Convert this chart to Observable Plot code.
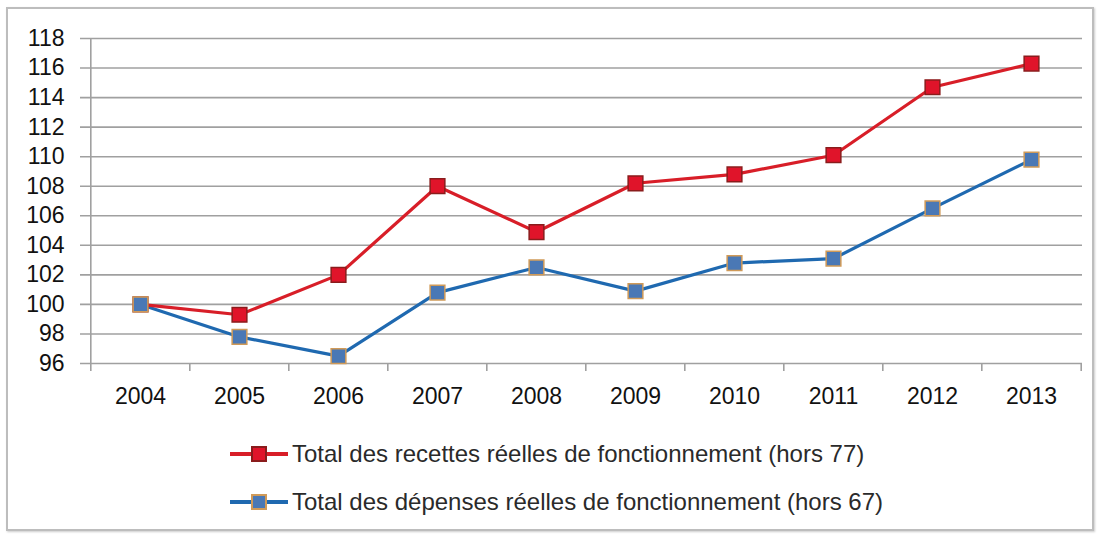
<!DOCTYPE html>
<html><head><meta charset="utf-8">
<script src="https://cdn.jsdelivr.net/npm/d3@7"></script>
<script src="https://cdn.jsdelivr.net/npm/@observablehq/plot@0.6"></script>
<style>
body{margin:0;background:#fff;width:1099px;height:535px;position:relative;overflow:hidden;font-family:"Liberation Sans",Arial,sans-serif;}
#frame{position:absolute;left:6px;top:7px;width:1084px;height:520px;border:2px solid #bdbdbd;box-shadow:1px 1px 2px #ccc;}
#chart{position:absolute;left:0;top:0;}
#legend{position:absolute;left:0;top:430px;width:1099px;}
.row{position:absolute;left:230px;display:flex;align-items:center;font-size:24px;color:#2a2a2a;white-space:nowrap;height:30px;}
.sym{position:relative;width:58px;height:16px;margin-right:4px;}
.sym .ln{position:absolute;left:0;right:0;top:6px;height:4px;}
.sym .sq{position:absolute;left:21px;top:0;width:12px;height:12px;border:2px solid;}
</style></head><body>
<div id="frame"></div>
<div id="chart"></div>
<div id="legend"></div>
<script>
const years = ["2004","2005","2006","2007","2008","2009","2010","2011","2012","2013"];
const recettes = [100, 99.3, 102, 108, 104.9, 108.2, 108.8, 110.1, 114.7, 116.3];
const depenses = [100, 97.8, 96.5, 100.8, 102.5, 100.9, 102.8, 103.1, 106.5, 109.8];
const yTicks = [96,98,100,102,104,106,108,110,112,114,116,118];
const seriesNames = ["Total des recettes réelles de fonctionnement (hors 77)","Total des dépenses réelles de fonctionnement (hors 67)"];
const lineColors = ["#d81e28","#1f69b0"];
const fillColors = ["#e0142a","#4a78b5"];
const strokeColors = ["#8a1c1c","#d09a58"];

const W = 1099, H = 420, mL = 88, mR = 17, mT = 38, mB = 57;
const step = (W - mL - mR) / years.length;

const rows = [];
years.forEach((y,i)=>{
  rows.push({year:y, value:recettes[i], s:0});
  rows.push({year:y, value:depenses[i], s:1});
});

const chart = Plot.plot({
  width: W, height: H,
  marginLeft: mL, marginRight: mR, marginTop: mT, marginBottom: mB,
  x: {type:"point", domain: years, padding: 0.5},
  y: {domain:[96,118]},
  style: {fontFamily:"'Liberation Sans', Arial, sans-serif", background:"transparent"},
  marks: [
    Plot.ruleY(yTicks, {stroke:"#a0a0a0", strokeWidth:1.6, insetLeft:-8}),
    Plot.ruleX([0], {x: ()=>years[0], dx: -step/2, stroke:"#a0a0a0", strokeWidth:1.6}),
    Plot.ruleX(years, {dx: -step/2, stroke:"#a0a0a0", strokeWidth:1.6, insetTop: H-mT-mB, insetBottom:-8}),
    Plot.ruleX([years[years.length-1]], {dx: step/2, stroke:"#a0a0a0", strokeWidth:1.6, insetTop: H-mT-mB, insetBottom:-8}),
    Plot.axisY({ticks: yTicks, tickSize:0, tickPadding:24, fontSize:23, fill:"#111", label:null}),
    Plot.axisX({tickSize:0, tickPadding:24, fontSize:23, fill:"#111", label:null}),
    Plot.line(rows.filter(d=>d.s===1), {x:"year", y:"value", stroke:lineColors[1], strokeWidth:3.2}),
    Plot.line(rows.filter(d=>d.s===0), {x:"year", y:"value", stroke:lineColors[0], strokeWidth:3.2}),
    Plot.dot(rows.filter(d=>d.s===0), {x:"year", y:"value", symbol:"square", r:8.3, fill:fillColors[0], stroke:strokeColors[0], strokeWidth:1.5}),
    Plot.dot(rows.filter(d=>d.s===1), {x:"year", y:"value", symbol:"square", r:8.3, fill:fillColors[1], stroke:strokeColors[1], strokeWidth:1.5})
  ]
});
document.getElementById("chart").appendChild(chart);

const leg = document.getElementById("legend");
seriesNames.forEach((name,i)=>{
  const r = document.createElement("div");
  r.className = "row";
  r.style.top = (9 + i*48) + "px";
  r.innerHTML = `<div class="sym"><div class="ln" style="background:${lineColors[i]}"></div><div class="sq" style="background:${fillColors[i]};border-color:${strokeColors[i]}"></div></div><span>${name}</span>`;
  leg.appendChild(r);
});
</script>
</body></html>
